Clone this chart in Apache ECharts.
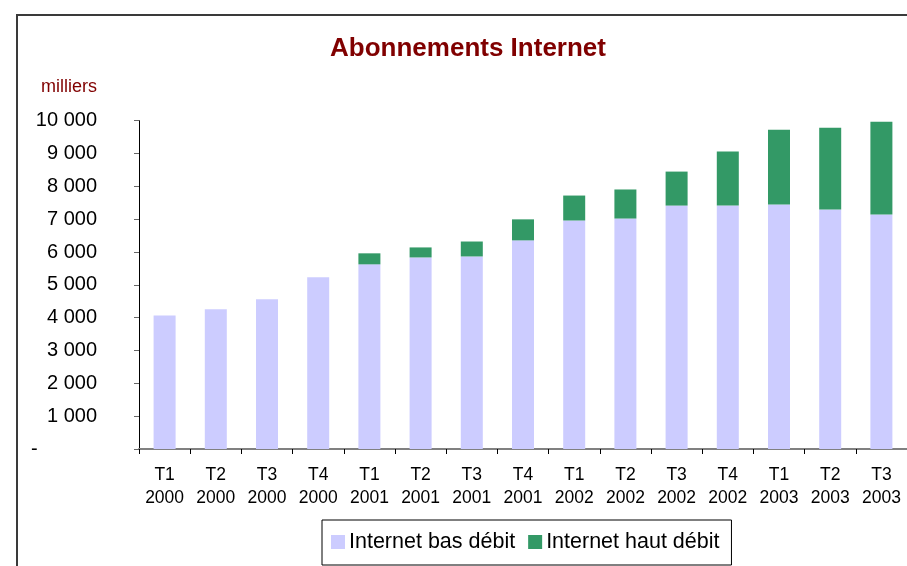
<!DOCTYPE html>
<html>
<head>
<meta charset="utf-8">
<script src="https://cdn.jsdelivr.net/npm/echarts@6/dist/echarts.min.js"></script>
<style>
  html, body { margin: 0; padding: 0; background: #fff; }
  #chart { width: 907px; height: 566px; }
</style>
</head>
<body>
<div id="chart"></div>
<script>
const quarters = ["T1", "T2", "T3", "T4", "T1", "T2", "T3", "T4", "T1", "T2", "T3", "T4", "T1", "T2", "T3"];
const years = ["2000", "2000", "2000", "2000", "2001", "2001", "2001", "2001", "2002", "2002", "2002", "2002", "2003", "2003", "2003"];
// milliers d'abonnements
const basDebit = [4070, 4255, 4560, 5230, 5625, 5835, 5865, 6355, 6960, 7020, 7415, 7415, 7445, 7295, 7145];
const hautDebit = [null, null, null, null, 335, 305, 455, 640, 760, 885, 1035, 1645, 2280, 2490, 2825];

const categories = quarters.map((q, i) => q + "\n" + years[i]);
const font = 'Arial, "Liberation Sans", sans-serif';

const fmt = (v) => String(v).replace(/\B(?=(\d{3})+(?!\d))/g, " ");

const chart = echarts.init(document.getElementById("chart"));
chart.setOption({
  animation: false,
  backgroundColor: "#fff",
  title: [
    {
      text: "Abonnements Internet",
      left: 463,
      textAlign: "center",
      top: 31,
      textStyle: { color: "#800000", fontSize: 26, fontWeight: "bold", fontFamily: font }
    },
    {
      text: "milliers",
      left: 36,
      top: 73,
      textStyle: { color: "#800000", fontSize: 18, fontWeight: "normal", fontFamily: font }
    }
  ],
  graphic: [
    {
      type: "rect",
      shape: { x: 17, y: 15, width: 1000, height: 1000 },
      style: { fill: "none", stroke: "#3a3a3a", lineWidth: 2 },
      silent: true
    }
  ],
  legend: {
    left: 322,
    top: 520,
    padding: [11, 12, 12, 9],
    borderColor: "#000",
    borderWidth: 1,
    icon: "rect",
    itemWidth: 14,
    itemHeight: 14,
    itemGap: 13,
    textStyle: { fontSize: 21.5, color: "#000", fontFamily: font, padding: [0, 0, 0, -1] },
    data: ["Internet bas débit", "Internet haut débit"]
  },
  grid: {
    left: 139,
    top: 120.7,
    width: 772,
    height: 328.3,
    containLabel: false
  },
  xAxis: {
    type: "category",
    data: categories,
    axisLine: { lineStyle: { color: "#808080", width: 2 } },
    axisTick: { show: true, length: 5, lineStyle: { color: "#000" } },
    axisLabel: {
      color: "#000",
      fontSize: 17.5,
      lineHeight: 23,
      margin: 15,
      fontFamily: font,
      interval: 0
    },
    splitLine: { show: false }
  },
  yAxis: {
    type: "value",
    min: 0,
    max: 10000,
    interval: 1000,
    axisLine: { show: true, lineStyle: { color: "#000", width: 1 } },
    axisTick: { show: true, length: 5, lineStyle: { color: "#666" } },
    axisLabel: {
      color: "#000",
      fontSize: 20,
      margin: 42,
      fontFamily: font,
      formatter: (v) => (v === 0 ? "{z|-}" : fmt(v)),
      rich: {
        z: { fontSize: 20, fontFamily: font, color: "#000", width: 66, align: "left" }
      }
    },
    splitLine: { show: false }
  },
  series: [
    {
      name: "Internet bas débit",
      type: "bar",
      stack: "total",
      barWidth: 22,
      itemStyle: { color: "#CCCCFF" },
      data: basDebit
    },
    {
      name: "Internet haut débit",
      type: "bar",
      stack: "total",
      barWidth: 22,
      itemStyle: { color: "#339966" },
      data: hautDebit
    }
  ]
});
</script>
</body>
</html>
